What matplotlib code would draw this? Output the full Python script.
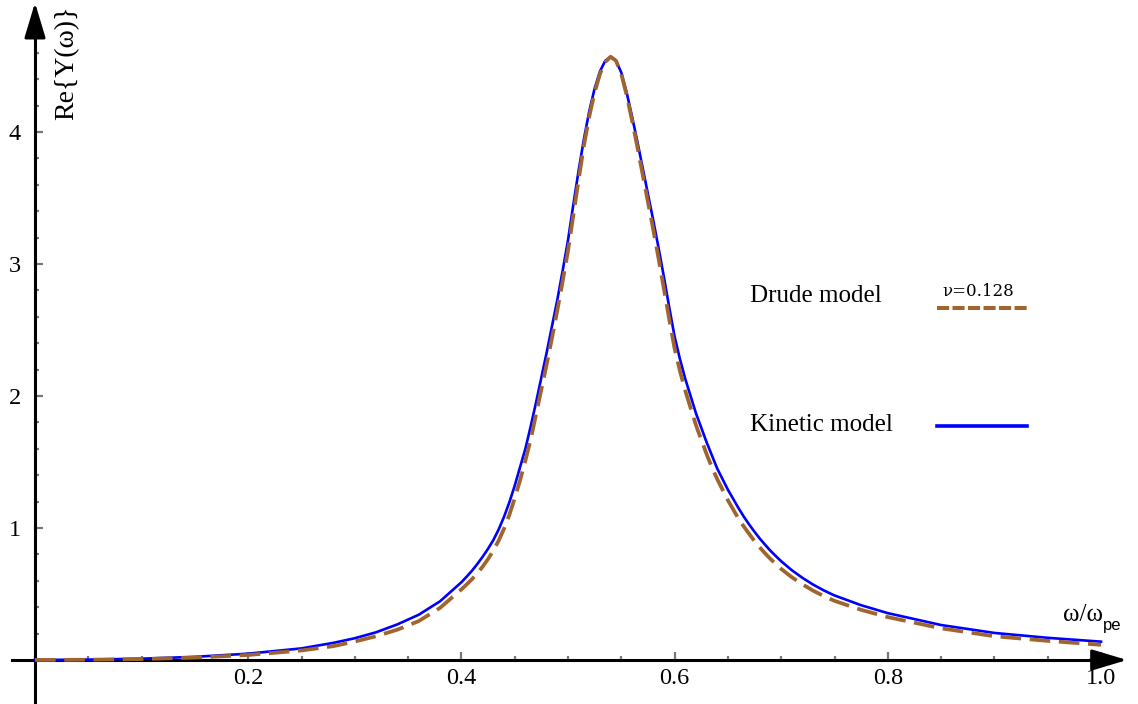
import matplotlib.pyplot as plt
from matplotlib.lines import Line2D

# omega / omega_pe grid and the two response curves
omega = [0.0, 0.05, 0.10, 0.15, 0.20, 0.25, 0.28, 0.30, 0.32, 0.34, 0.36, 0.38,
         0.40, 0.405, 0.41, 0.415, 0.42, 0.425, 0.43, 0.435, 0.44, 0.445, 0.45, 0.455,
         0.46, 0.465, 0.47, 0.475, 0.48, 0.485, 0.49, 0.495, 0.50, 0.505, 0.51, 0.515,
         0.52, 0.525, 0.53, 0.535, 0.54, 0.545, 0.55, 0.555, 0.56, 0.565, 0.57, 0.575,
         0.58, 0.585, 0.59, 0.595,
         0.60, 0.605, 0.61, 0.615, 0.62, 0.625, 0.63, 0.635, 0.64, 0.645, 0.65, 0.655,
         0.66, 0.665, 0.67, 0.675, 0.68, 0.685, 0.69, 0.695, 0.70,
         0.71, 0.72, 0.73, 0.74, 0.75, 0.775, 0.80, 0.85, 0.90, 0.95, 1.00]
kinetic = [0.0, 0.003, 0.01, 0.024, 0.048, 0.088, 0.13, 0.165, 0.21, 0.27, 0.343, 0.445,
           0.589, 0.632, 0.677, 0.728, 0.783, 0.843, 0.909, 0.99, 1.085, 1.195, 1.32, 1.46,
           1.60, 1.77, 1.95, 2.14, 2.33, 2.53, 2.73, 2.95, 3.18, 3.45, 3.71, 3.95,
           4.16, 4.33, 4.46, 4.54, 4.57, 4.54, 4.45, 4.30, 4.12, 3.93, 3.73, 3.53,
           3.33, 3.12, 2.90, 2.67,
           2.45, 2.28, 2.13, 2.00, 1.87, 1.76, 1.65, 1.55, 1.45, 1.37, 1.29, 1.22,
           1.15, 1.085, 1.026, 0.971, 0.919, 0.872, 0.827, 0.787, 0.748,
           0.680, 0.622, 0.571, 0.527, 0.489, 0.415, 0.355, 0.265, 0.205, 0.168, 0.139]
drude = [0.0, 0.002, 0.007, 0.018, 0.038, 0.072, 0.105, 0.14, 0.18, 0.23, 0.295, 0.395,
         0.535, 0.573, 0.613, 0.658, 0.708, 0.765, 0.830, 0.905, 0.995, 1.10, 1.225, 1.36,
         1.51, 1.67, 1.86, 2.05, 2.24, 2.44, 2.65, 2.87, 3.10, 3.37, 3.64, 3.90,
         4.12, 4.30, 4.44, 4.53, 4.57, 4.54, 4.44, 4.28, 4.09, 3.89, 3.68, 3.47,
         3.26, 3.04, 2.81, 2.58,
         2.36, 2.19, 2.04, 1.91, 1.78, 1.67, 1.56, 1.46, 1.37, 1.29, 1.21, 1.14,
         1.07, 1.01, 0.955, 0.90, 0.852, 0.807, 0.765, 0.727, 0.69,
         0.627, 0.573, 0.525, 0.484, 0.448, 0.38, 0.325, 0.24, 0.18, 0.145, 0.115]

labels = ['Drude model', 'Kinetic model']
nu_label = 'ν=0.128'
x_ticks = [0.2, 0.4, 0.6, 0.8, 1.0]
y_ticks = [1, 2, 3, 4]

blue = '#0000ff'
brown = '#a0642f'
serif = 'Liberation Serif'
W, H = 1138, 704

fig = plt.figure(figsize=(W / 100, H / 100), dpi=100)
ax = fig.add_axes([0, 0, 1, 1])
ax.set_xlim(-35 / 1066, (W - 35) / 1066)
ax.set_ylim(-44 / 132, 660 / 132)

# curves
ax.plot(omega, kinetic, color=blue, lw=1.9, zorder=4)
ax.plot(omega, drude, color=brown, lw=2.7, dashes=(5.5, 2.3), dash_capstyle='butt', zorder=5)

# axes through the origin, with arrow heads
for side in ['top', 'right']:
    ax.spines[side].set_visible(False)
for side in ['left', 'bottom']:
    ax.spines[side].set_position(('data', 0))
    ax.spines[side].set_linewidth(2.2)
ax.spines['bottom'].set_bounds(-0.022, 1.0)
ax.spines['left'].set_bounds(-0.34, 4.8)

arrow = dict(arrowstyle='-|>,head_length=1.2,head_width=0.36', color='black', lw=2.2,
             mutation_scale=18, shrinkA=0, shrinkB=0)
ax.annotate('', xy=(1.0244, 0), xytext=(0.99, 0), arrowprops=arrow, zorder=3)
ax.annotate('', xy=(0, 4.98), xytext=(0, 4.75), arrowprops=arrow, zorder=3)

# ticks
ax.set_xticks(x_ticks)
ax.set_xticklabels([f'{t:.1f}' for t in x_ticks])
ax.set_xticks([i * 0.05 for i in range(0, 21)], minor=True)
ax.set_yticks(y_ticks)
ax.set_yticklabels([str(t) for t in y_ticks])
ax.set_yticks([i * 0.2 for i in range(0, 24)], minor=True)
ax.tick_params(which='both', direction='in', color='#777777', width=1.6)
ax.tick_params(which='major', length=5.5, labelsize=17.5)
ax.tick_params(which='minor', length=3)
ax.tick_params(axis='x', which='major', pad=6)
ax.tick_params(axis='y', which='major', pad=10)
for lab in ax.get_xticklabels() + ax.get_yticklabels():
    lab.set_family(serif)

# axis labels
ax.text(0.030, 4.96, 'Re{Y(ω)}', rotation=90, ha='center', va='top', fontsize=20, family=serif)
t = ax.text(0.964, 0.34, 'ω/ω', ha='left', va='center', fontsize=18, family=serif)
ax.annotate('pe', xy=(1, 0.05), xycoords=t, ha='left', va='center', fontsize=12,
            family='Liberation Sans')

# legend, Mathematica style: text on the left, line sample on the right
rows_y = [296, 425]
line_y = [308, 426]
styles = [dict(color=brown, lw=2.9, dashes=(3.0, 0.85), dash_capstyle='butt'),
          dict(color=blue, lw=2.6)]
for lab, ty, ly, st in zip(labels, rows_y, line_y, styles):
    fig.text(750 / W, 1 - ty / H, lab, ha='left', va='center', fontsize=18, family=serif)
    fig.add_artist(Line2D([937 / W, 1027 / W], [1 - ly / H, 1 - ly / H],
                          transform=fig.transFigure, **st))
fig.text(978 / W, 1 - 291 / H, nu_label, ha='center', va='center', fontsize=12,
         family='DejaVu Serif')

plt.savefig('out.png', dpi=100)
